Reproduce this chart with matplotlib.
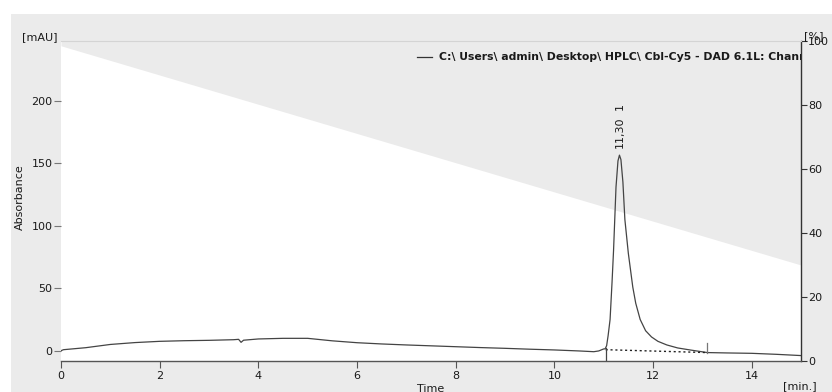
import matplotlib
matplotlib.use("Agg")
import matplotlib.pyplot as plt
from matplotlib.patches import Rectangle

# ---- data ----
time_min = [0.0, 0.05, 0.5, 1.0, 1.5, 2.0, 2.5, 3.0, 3.5, 3.6, 3.65, 3.7, 4.0, 4.5, 5.0, 5.2,
            5.5, 6.0, 6.5, 7.0, 7.5, 8.0, 8.5, 9.0, 9.5, 10.0, 10.5, 10.8, 10.9, 11.0, 11.03,
            11.06, 11.09, 11.13, 11.17, 11.2, 11.25, 11.29, 11.32, 11.35, 11.39, 11.43, 11.5,
            11.59, 11.65, 11.74, 11.85, 11.97, 12.1, 12.28, 12.5, 12.75, 13.1, 13.5, 14.0,
            14.5, 15.0]
absorbance = [0.0, 0.8, 2.4, 5.0, 6.5, 7.5, 8.0, 8.3, 8.8, 9.1, 6.7, 8.4, 9.4, 9.9, 9.9, 9.1,
              7.9, 6.4, 5.4, 4.6, 3.9, 3.2, 2.5, 1.9, 1.2, 0.6, -0.2, -0.8, -0.2, 1.4, 1.5,
              4.0, 12.0, 25.0, 55.0, 80.0, 131.0, 152.0, 156.6, 153.0, 135.0, 105.0, 78.0,
              51.0, 38.0, 25.0, 16.0, 11.0, 7.5, 4.6, 2.2, 0.6, -1.5, -1.8, -2.1,
              -2.9, -3.9]

gradient_time = [0.0, 15.0]
gradient_pct = [98.5, 30.0]

baseline_time = [11.04, 13.1]
baseline_abs = [0.8, -1.5]

marker_start = (11.04, 1.8)      # integration start tick (time, top mAU)
marker_end = (13.1, -1.6, 6.0)   # integration end tick (time, bottom, top)

peak_rt = 11.30
peak_label = "11,30"
peak_number = "1"

x_ticks = [0, 2, 4, 6, 8, 10, 12, 14]
y_ticks = [0, 50, 100, 150, 200]
y2_ticks = [0, 20, 40, 60, 80, 100]

legend_text = "C:\\ Users\\ admin\\ Desktop\\ HPLC\\ Cbl-Cy5 - DAD 6.1L: Channel 1"

# ---- figure ----
W, H = 832, 392
BG = "#ebebeb"
TXT = "#1a1a1a"
fig = plt.figure(figsize=(W / 100, H / 100), dpi=100, facecolor="white")
fig.patches.append(Rectangle((11 / W, 0), 1 - 11 / W, (H - 14) / H,
                             transform=fig.transFigure, facecolor=BG,
                             edgecolor="none", zorder=-10))

L, R, T, B = 61, 801, 41, 361
rect = [L / W, (H - B) / H, (R - L) / W, (B - T) / H]

ax2 = fig.add_axes(rect)
ax = fig.add_axes(rect, sharex=ax2)

# secondary (gradient) axis underneath
ax2.set_facecolor("white")
ax2.fill_between(gradient_time, gradient_pct, 100, color=BG, lw=0)
ax2.set_ylim(0, 100)
ax2.set_xlim(0, 15)
ax2.yaxis.tick_right()
ax2.set_yticks(y2_ticks)
ax2.tick_params(axis="y", direction="out", length=4, width=0.8, color="#333333",
                labelsize=8, labelcolor=TXT, pad=1)
ax2.tick_params(axis="x", bottom=False, labelbottom=False)
for s in ["left", "bottom"]:
    ax2.spines[s].set_visible(False)
ax2.spines["top"].set_color("#d4d4d4")
ax2.spines["right"].set_color("#333333")
ax2.spines["right"].set_linewidth(1.0)

# primary axis on top
ax.set_zorder(2)
ax2.set_zorder(1)
ax.patch.set_visible(False)
ax.plot(time_min, absorbance, color="#444444", lw=0.9)
ax.plot(baseline_time, baseline_abs, color="#222222", lw=1.0, ls=(0, (1.5, 2.0)))
ax.plot([marker_start[0], marker_start[0]], [-8.25, marker_start[1]], color="#444444", lw=0.9)
ax.plot([marker_end[0], marker_end[0]], [marker_end[1], marker_end[2]], color="#777777", lw=0.9)

ax.set_xlim(0, 15)
ax.set_ylim(-8.25, 248)
ax.set_xticks(x_ticks)
ax.set_yticks(y_ticks)
ax.tick_params(axis="x", direction="out", length=5, width=0.8, color="#555555",
               labelsize=8, labelcolor=TXT, pad=2)
ax.tick_params(axis="y", direction="out", length=5, width=0.8, color="#777777",
               labelsize=8, labelcolor=TXT, pad=1)
for s in ["left", "top", "right"]:
    ax.spines[s].set_visible(False)
ax.spines["bottom"].set_color("#555555")
ax.spines["bottom"].set_linewidth(1.0)

# peak annotation
ax.text(peak_rt + 0.03, 162, peak_label, rotation=90, ha="center", va="bottom",
        fontsize=8, color=TXT)
ax.text(peak_rt + 0.03, 193, peak_number, rotation=90, ha="center", va="bottom",
        fontsize=8, color=TXT)

# legend-like header (clipped at axis edge)
ax.plot([0.481, 0.501], [0.95, 0.95], transform=ax.transAxes, color="#333333", lw=0.9)
ax.text(0.511, 0.95, legend_text, transform=ax.transAxes, ha="left", va="center",
        fontsize=7.8, fontweight="bold", color=TXT, clip_on=True)

# axis labels
fig.text(22 / W, 1 - 37 / H, "[mAU]", ha="left", va="center", fontsize=8, color=TXT)
fig.text(20 / W, 1 - 197 / H, "Absorbance", rotation=90, ha="center", va="center",
         fontsize=8, color=TXT)
fig.text(431 / W, 1 - 389 / H, "Time", ha="center", va="center", fontsize=8, color=TXT)
fig.text(800 / W, 1 - 386 / H, "[min.]", ha="center", va="center", fontsize=8, color=TXT)
fig.text(814 / W, 1 - 36 / H, "[%]", ha="center", va="center", fontsize=8, color=TXT)
fig.text(836 / W, 1 - 212 / H, "Gradient", rotation=-90, ha="center", va="center",
         fontsize=8, color=TXT)

fig.savefig("out.png", dpi=100, facecolor="white")
